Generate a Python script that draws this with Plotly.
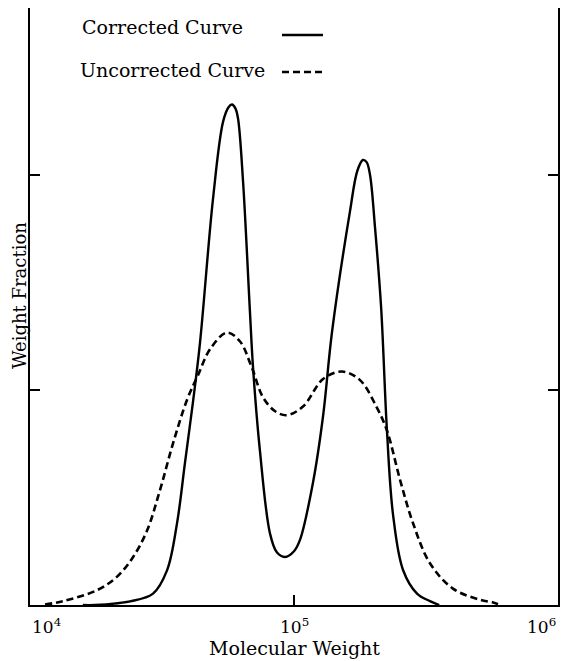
import numpy as np
import plotly.graph_objects as go

# log10(Molecular Weight) and weight fraction (arbitrary units, tick spacing = 1)
corr_logM = [4.20, 4.246, 4.379, 4.466, 4.519, 4.557, 4.587, 4.617, 4.644, 4.693, 4.731, 4.752, 4.765,
             4.778, 4.788, 4.807, 4.833, 4.845, 4.871, 4.909, 4.935, 4.966, 5.000, 5.023, 5.072, 5.110,
             5.144, 5.212, 5.240, 5.261, 5.275, 5.288, 5.307, 5.330, 5.352, 5.375, 5.413, 5.466, 5.515, 5.55]
corr_w = [0.0, 0.0, 0.017, 0.053, 0.161, 0.381, 0.661, 0.941, 1.221, 1.887, 2.246, 2.315, 2.328,
          2.310, 2.263, 1.970, 1.367, 1.102, 0.717, 0.333, 0.245, 0.223, 0.250, 0.304, 0.570, 0.878,
          1.270, 1.831, 2.02, 2.070, 2.060, 2.0, 1.754, 1.384, 0.814, 0.422, 0.163, 0.053, 0.018, 0.0]

unc_logM = [4.057, 4.125, 4.254, 4.330, 4.390, 4.443, 4.492, 4.542, 4.595, 4.636, 4.682, 4.746,
            4.795, 4.841, 4.883, 4.930, 4.973, 5.034, 5.110, 5.182, 5.250, 5.314, 5.352, 5.402,
            5.451, 5.515, 5.602, 5.705, 5.754, 5.78]
unc_w = [0.002, 0.018, 0.069, 0.132, 0.222, 0.345, 0.533, 0.753, 0.955, 1.068, 1.190, 1.267,
         1.227, 1.102, 0.965, 0.900, 0.883, 0.923, 1.051, 1.086, 1.046, 0.918, 0.812, 0.581,
         0.380, 0.194, 0.076, 0.024, 0.012, 0.0]

x_tick_vals = [1e4, 1e5, 1e6]
x_tick_text = ["10<sup>4</sup>", "10<sup>5</sup>", "10<sup>6</sup>"]
y_tick_vals = [1, 2]

legend_names = ["Corrected Curve", "Uncorrected Curve"]

FONT = "DejaVu Serif"
FS = 19
OFF = 8  # page body margin of the html page
W, H = 574 - OFF, 661 - OFF
L, R, T, B = 30 - OFF, 16, 0, 56
PW, PH = W - L - R, H - T - B


def px(x):
    return (x - OFF - L) / PW


def py(y):
    return (H - B - (y - OFF)) / PH


fig = go.Figure()
fig.add_trace(go.Scatter(x=10 ** np.array(corr_logM), y=corr_w, mode="lines",
                         line=dict(color="black", width=2.4, shape="spline", smoothing=1.0),
                         name=legend_names[0], showlegend=False))
fig.add_trace(go.Scatter(x=10 ** np.array(unc_logM), y=unc_w, mode="lines",
                         line=dict(color="black", width=2.6, dash="7px,4px", shape="spline", smoothing=1.0),
                         name=legend_names[1], showlegend=False))

fig.update_layout(
    width=W, height=H,
    margin=dict(l=L, r=R, t=T, b=B, autoexpand=False),
    paper_bgcolor="white", plot_bgcolor="white",
    font=dict(family=FONT, size=FS, color="black"),
    xaxis=dict(type="log", range=[4, 6], showline=True, linecolor="black", linewidth=1.5,
               mirror=False, showgrid=False, zeroline=False,
               tickvals=[1e5], ticks="inside", ticklen=10, tickwidth=1.5, tickcolor="black",
               showticklabels=False),
    yaxis=dict(range=[0, 2.777], showline=True, linecolor="black", linewidth=1.5,
               mirror="ticks", showgrid=False, zeroline=False,
               tickvals=y_tick_vals, ticks="inside", ticklen=10, tickwidth=1.5, tickcolor="black",
               showticklabels=False),
)

# x tick labels as annotations (end labels shifted inward as in the original)
anchors = ["left", "center", "right"]
for v, t, a in zip(x_tick_vals, x_tick_text, anchors):
    fig.add_annotation(x=np.log10(v), y=0, xref="x", yref="paper", text=t, showarrow=False,
                       xanchor=a, yanchor="top", yshift=-8, font=dict(family=FONT, size=17))

fig.add_annotation(x=px(294), y=py(648), xref="paper", yref="paper", text="Molecular Weight",
                   showarrow=False, xanchor="center", yanchor="middle",
                   font=dict(family=FONT, size=FS))
fig.add_annotation(x=px(19), y=py(296), xref="paper", yref="paper", text="Weight Fraction",
                   showarrow=False, textangle=-90, xanchor="center", yanchor="middle",
                   font=dict(family=FONT, size=18))

# legend (text left, line sample right)
fig.add_annotation(x=px(80), y=py(27), xref="paper", yref="paper", text=legend_names[0],
                   showarrow=False, xanchor="left", yanchor="middle", font=dict(family=FONT, size=FS))
fig.add_annotation(x=px(78), y=py(70), xref="paper", yref="paper", text=legend_names[1],
                   showarrow=False, xanchor="left", yanchor="middle", font=dict(family=FONT, size=FS))
fig.add_shape(type="line", xref="paper", yref="paper", x0=px(282), x1=px(323), y0=py(35), y1=py(35),
              line=dict(color="black", width=2.4))
fig.add_shape(type="line", xref="paper", yref="paper", x0=px(282), x1=px(323), y0=py(72), y1=py(72),
              line=dict(color="black", width=2.6, dash="7px,4px"))

fig.write_html("out.html")
